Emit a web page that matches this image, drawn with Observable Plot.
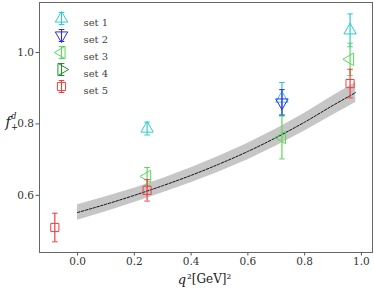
<!DOCTYPE html>
<html><head><meta charset="utf-8">
<script src="https://cdn.jsdelivr.net/npm/d3@7"></script>
<script src="https://cdn.jsdelivr.net/npm/@observablehq/plot@0.6"></script>
<style>body{margin:0;background:#fff}</style>
</head><body><div id="chart"></div>
<script>
// Fit curve
const fitQ2      = [0.00, 0.10, 0.20, 0.30, 0.40, 0.50, 0.60, 0.70, 0.80, 0.90, 0.98];
const fitCentral = [0.552, 0.575, 0.600, 0.627, 0.656, 0.688, 0.723, 0.762, 0.805, 0.852, 0.888];
const fitErr     = [0.022, 0.021, 0.020, 0.020, 0.021, 0.022, 0.023, 0.024, 0.025, 0.027, 0.028];

// Lattice sets
const setNames  = ["set 1", "set 2", "set 3", "set 4", "set 5"];
const setColors = ["#30cccc", "#2a2af0", "#5ad85a", "#22902a", "#f04040"];
const set1Q2 = [0.245, 0.72, 0.96];  const set1F = [0.787, 0.871, 1.062]; const set1E = [0.018, 0.045, 0.046];
const set2Q2 = [0.72];               const set2F = [0.860];               const set2E = [0.036];
const set3Q2 = [0.245, 0.72, 0.96];  const set3F = [0.653, 0.762, 0.981]; const set3E = [0.025, 0.060, 0.045];
const set4Q2 = [];                   const set4F = [];                    const set4E = [];
const set5Q2 = [-0.08, 0.245, 0.96]; const set5F = [0.510, 0.614, 0.913]; const set5E = [0.040, 0.030, 0.040];

const xTicks = [0.0, 0.2, 0.4, 0.6, 0.8, 1.0];
const yTicks = [0.6, 0.8, 1.0];

const serif = "DejaVu Serif";
const fit = fitQ2.map((q, i) => ({q, f: fitCentral[i], lo: fitCentral[i] - fitErr[i], hi: fitCentral[i] + fitErr[i]}));
const mk = (qs, fs, es) => qs.map((q, i) => ({q, f: fs[i], e: es[i]}));
const sets = [mk(set1Q2, set1F, set1E), mk(set2Q2, set2F, set2E), mk(set3Q2, set3F, set3E), mk(set4Q2, set4F, set4E), mk(set5Q2, set5F, set5E)];
const symbols = [
  {symbol: "triangle", rotate: 0},
  {symbol: "triangle", rotate: 180},
  {symbol: "triangle", rotate: -90},
  {symbol: "triangle", rotate: 90},
  {symbol: "square", rotate: 0}
];
const cap = {draw(ctx) { ctx.moveTo(-2.8, 0); ctx.lineTo(2.8, 0); }};
const legendBar = {draw(ctx) {
  ctx.moveTo(0, -6); ctx.lineTo(0, 6);
  ctx.moveTo(-2.8, -6); ctx.lineTo(2.8, -6);
  ctx.moveTo(-2.8, 6); ctx.lineTo(2.8, 6);
}};

const marks = [
  Plot.areaY(fit, {x: "q", y1: "lo", y2: "hi", fill: "#c6c6c6"}),
  Plot.line(fit, {x: "q", y: "f", stroke: "#111", strokeWidth: 1, strokeDasharray: "2.5,1.5", curve: "monotone-x"}),
  Plot.axisX({ticks: xTicks, tickFormat: ".1f", label: null, tickSize: 3.5, tickPadding: 2, fontSize: 10.5, fontFamily: serif, stroke: "#555", fill: "#333"}),
  Plot.axisY({ticks: yTicks, tickFormat: ".1f", label: null, tickSize: 3.5, tickPadding: 2, fontSize: 10.5, fontFamily: serif, stroke: "#555", fill: "#333"})
];
sets.forEach((data, i) => {
  const c = setColors[i];
  marks.push(
    Plot.ruleX(data, {x: "q", y1: d => d.f - d.e, y2: d => d.f + d.e, stroke: c, strokeWidth: 1.2}),
    Plot.dot(data, {x: "q", y: d => d.f - d.e, symbol: cap, stroke: c, strokeWidth: 1}),
    Plot.dot(data, {x: "q", y: d => d.f + d.e, symbol: cap, stroke: c, strokeWidth: 1}),
    Plot.dot(data, {x: "q", y: "f", symbol: symbols[i].symbol, rotate: symbols[i].rotate, r: 4.6, stroke: c, fill: "none", strokeWidth: 1})
  );
  // legend entry
  marks.push(
    Plot.dot([0], {frameAnchor: "top-left", dx: 22, dy: 16 + 17 * i, symbol: legendBar, stroke: c, strokeWidth: 1.1}),
    Plot.dot([0], {frameAnchor: "top-left", dx: 22, dy: 16 + 17 * i, symbol: symbols[i].symbol, rotate: symbols[i].rotate, r: 4.6, stroke: c, fill: "none", strokeWidth: 1}),
    Plot.text([setNames[i]], {frameAnchor: "top-left", dx: 44, dy: 16 + 17 * i, text: d => d, textAnchor: "start", fill: "#444", fontSize: 10, fontFamily: serif})
  );
});
// axis labels
marks.push(
  Plot.text(["f"], {frameAnchor: "left", y: [0.8], dx: -34, dy: -1, text: d => d, fontStyle: "italic", fontSize: 14, fontFamily: serif, fill: "#222"}),
  Plot.text(["d"], {frameAnchor: "left", y: [0.8], dx: -28.5, dy: -8, text: d => d, fontStyle: "italic", fontSize: 8.5, fontFamily: serif, fill: "#222"}),
  Plot.text(["+"], {frameAnchor: "left", y: [0.8], dx: -28.5, dy: 3, text: d => d, fontSize: 8.5, fontFamily: serif, fill: "#222"}),
  Plot.text(["q"], {frameAnchor: "bottom", dx: -24, dy: 31, text: d => d, fontStyle: "italic", fontSize: 13, fontFamily: serif, fill: "#222"}),
  Plot.text(["²[GeV]²"], {frameAnchor: "bottom", dx: -19, dy: 30, text: d => d, textAnchor: "start", fontSize: 12, fontFamily: serif, fill: "#222"}),
  Plot.frame({stroke: "#666", strokeWidth: 1})
);

const chart = Plot.plot({
  width: 374, height: 288,
  marginLeft: 39, marginRight: 2, marginTop: 2, marginBottom: 36,
  style: {fontFamily: serif, background: "#fff"},
  x: {domain: [-0.134, 1.039]},
  y: {domain: [0.44, 1.14]},
  marks
});
document.getElementById("chart").appendChild(chart);
</script>
</body></html>
